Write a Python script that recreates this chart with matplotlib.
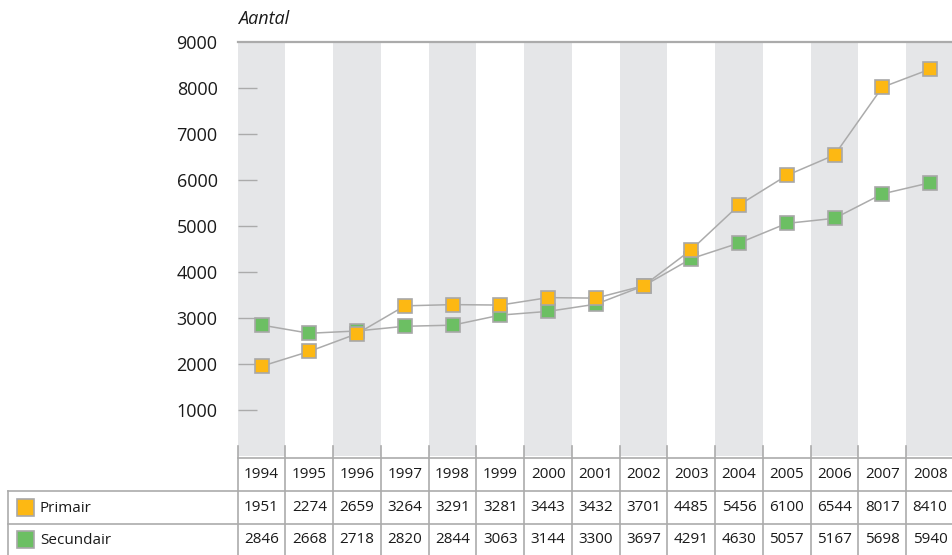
import matplotlib.pyplot as plt
from matplotlib.patches import Rectangle

years = [1994, 1995, 1996, 1997, 1998, 1999, 2000, 2001, 2002, 2003,
         2004, 2005, 2006, 2007, 2008]
primair = [1951, 2274, 2659, 3264, 3291, 3281, 3443, 3432, 3701, 4485,
           5456, 6100, 6544, 8017, 8410]
secundair = [2846, 2668, 2718, 2820, 2844, 3063, 3144, 3300, 3697, 4291,
             4630, 5057, 5167, 5698, 5940]
yticks = [1000, 2000, 3000, 4000, 5000, 6000, 7000, 8000, 9000]

ORANGE = '#FDB813'
GREEN = '#6CBF63'
EDGE = '#A8A8A8'
BAND = '#E5E6E8'
GRID = '#ABABAB'

plt.rcParams['font.family'] = ['Open Sans', 'DejaVu Sans']

W, H = 953, 555
fig = plt.figure(figsize=(W / 100, H / 100), dpi=100)

# pixel layout
x0, colw = 237.7, 47.75
y_top, y_zero = 42, 456
n = len(years)

ax = fig.add_axes([x0 / W, 1 - y_zero / H, (n * colw) / W, (y_zero - y_top) / H])
ax.set_xlim(-0.5, n - 0.5)
ax.set_ylim(0, 9000)

for i in range(0, n, 2):
    ax.axvspan(i - 0.5, i + 0.5, color=BAND, lw=0, zorder=0)
ax.axhline(9000, color=GRID, lw=1.6, zorder=1, clip_on=False)

xs = list(range(n))
ax.plot(xs, secundair, color=GRID, lw=1.1, zorder=2, marker='s', ms=10,
        mfc=GREEN, mec=EDGE, mew=1.2)
ax.plot(xs, primair, color=GRID, lw=1.1, zorder=3, marker='s', ms=10,
        mfc=ORANGE, mec=EDGE, mew=1.2)

for s in ax.spines.values():
    s.set_visible(False)
ax.set_xticks([])
ax.set_yticks(yticks)
ax.set_yticklabels([str(t) for t in yticks], fontsize=13, color='#1a1a1a')
ax.tick_params(axis='y', direction='in', length=14, width=1, color=GRID, pad=14.5)
# hide the tick mark on the 9000 line
ax.yaxis.get_major_ticks()[-1].tick1line.set_visible(False)
ax.text(0, 1.035, 'Aantal', transform=ax.transAxes, fontsize=13,
        style='italic', color='#1a1a1a', ha='left', va='bottom')

# table underneath, drawn in pixel coordinates
tab = fig.add_axes([0, 0, 1, 1])
tab.set_xlim(0, W)
tab.set_ylim(H, 0)
tab.axis('off')

row_y = [458, 491, 524, 560]
left = 8
lw = 1.2
tab.plot([x0, W], [row_y[0], row_y[0]], color=GRID, lw=lw)
tab.plot([left, W], [row_y[1], row_y[1]], color=GRID, lw=lw)
tab.plot([left, W], [row_y[2], row_y[2]], color=GRID, lw=lw)
tab.plot([left, left], [row_y[1], H], color=GRID, lw=lw)
for i in range(n + 1):
    xb = x0 + i * colw
    tab.plot([xb, xb], [446, H], color=GRID, lw=lw)

rows = [[str(y) for y in years], [str(v) for v in primair], [str(v) for v in secundair]]
for r, vals in enumerate(rows):
    yc = (row_y[r] + row_y[r + 1]) / 2 if r < 2 else (row_y[r] + H) / 2
    for i, v in enumerate(vals):
        tab.text(x0 + (i + 0.5) * colw, yc, v, ha='center', va='center',
                 fontsize=11, color='#1a1a1a')

labels = ['Primair', 'Secundair']
colors = [ORANGE, GREEN]
for k, (lab, c) in enumerate(zip(labels, colors)):
    yc = (row_y[k + 1] + (row_y[k + 2] if k == 0 else H)) / 2
    tab.add_patch(Rectangle((17, yc - 8.5), 17, 17, facecolor=c,
                            edgecolor=EDGE, lw=1.2))
    tab.text(40, yc + 1, lab, ha='left', va='center', fontsize=11,
             color='#1a1a1a')

fig.savefig('out.png', dpi=100)
